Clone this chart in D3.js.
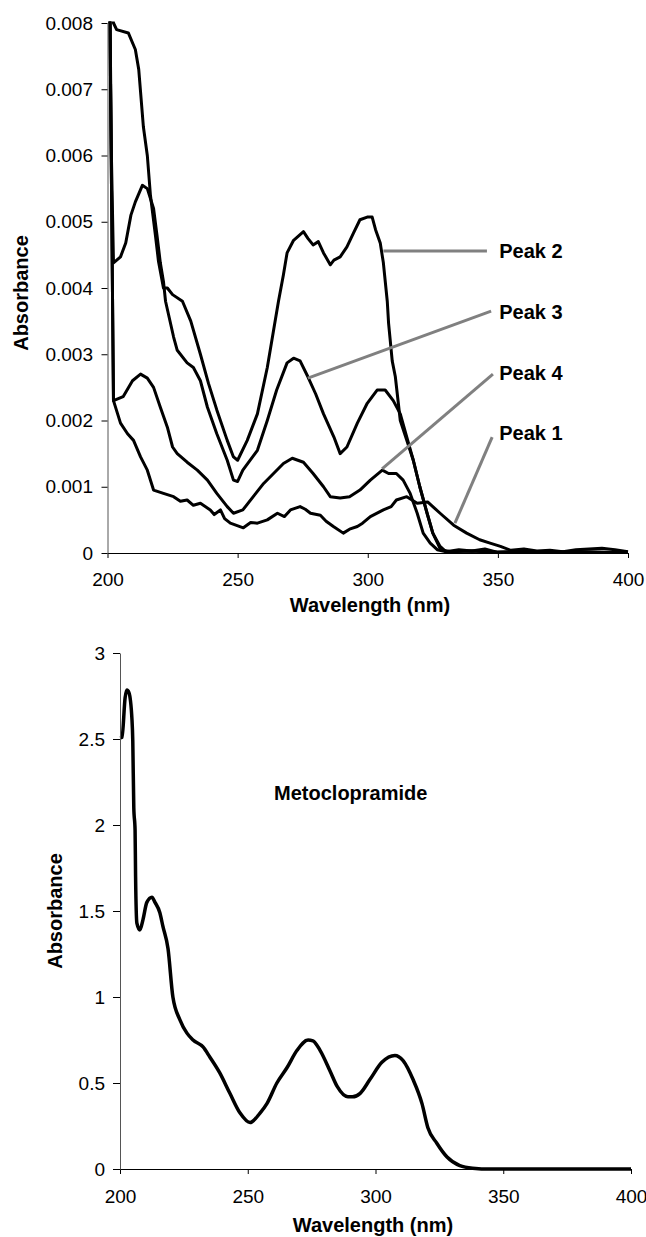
<!DOCTYPE html>
<html>
<head>
<meta charset="utf-8">
<script src="https://cdn.jsdelivr.net/npm/d3@7"></script>
<style>
  body { margin: 0; background: #fff; }
  text { font-family: "Liberation Sans", Arial, sans-serif; }
</style>
</head>
<body>
<div id="chart"></div>
<script>
// values
var wlTicks = [200, 250, 300, 350, 400]
var topTicks = [0, 0.001, 0.002, 0.003, 0.004, 0.005, 0.006, 0.007, 0.008]
var botTicks = [0, 0.5, 1, 1.5, 2, 2.5, 3]

var peak1Wl = [200, 202.3, 205, 207.7, 210, 212.7, 215.3, 217.7, 221.5, 225.4, 228, 230.6, 233, 235.7, 239.5, 241, 243.4, 245, 247.2, 252.2, 255, 257.6, 261.4, 265.3, 268, 270.3, 274, 276, 278, 281.8, 284, 286.8, 290.6, 293, 296, 298, 301, 306, 309, 311, 315, 319, 323, 327.8, 333, 338, 343, 347, 351, 355, 360, 365, 370, 375, 380, 385, 390, 395, 400]
var peak1Abs = [0.012, 0.0023, 0.00196, 0.0018, 0.0017, 0.00145, 0.00125, 0.00095, 0.0009, 0.00085, 0.00078, 0.0008, 0.00072, 0.00075, 0.00065, 0.00058, 0.00065, 0.00052, 0.00045, 0.00038, 0.00046, 0.00045, 0.0005, 0.0006, 0.00055, 0.00065, 0.0007, 0.00066, 0.0006, 0.00057, 0.00048, 0.0004, 0.0003, 0.00036, 0.0004, 0.00045, 0.00055, 0.00065, 0.0007, 0.0008, 0.00085, 0.00075, 0.00077, 0.0006, 0.00042, 0.0003, 0.0002, 0.00015, 0.0001, 0.00004, 0.00006, 0.00003, 0.00004, 0.00002, 0.00005, 0.00006, 0.00007, 0.00005, 0.00002]

var peak2Wl = [200, 201.5, 202.3, 203.5, 208, 210.7, 212, 213.8, 215.3, 216.5, 218.4, 219.6, 221.5, 223, 225, 228.8, 232, 235.7, 238.8, 242, 246, 248.4, 250, 253.7, 257.6, 261.4, 263.8, 265.7, 267.6, 269, 271.5, 275.3, 277, 279, 281, 283, 285.6, 287, 289.4, 292, 294.5, 297, 299.8, 301.7, 303, 304.8, 306, 307.5, 308, 309.4, 310.6, 312.5, 315, 317.5, 320, 322.8, 325, 327.8, 330, 335, 340, 345, 350, 360, 370, 380, 390, 400]
var peak2Abs = [0.0095, 0.0082, 0.008, 0.0079, 0.00785, 0.0076, 0.0073, 0.00643, 0.006, 0.0054, 0.0048, 0.0044, 0.004, 0.004, 0.0039, 0.0038, 0.0035, 0.003, 0.00256, 0.00216, 0.0017, 0.00145, 0.0014, 0.0017, 0.0021, 0.0028, 0.00336, 0.0038, 0.0042, 0.00453, 0.00472, 0.00485, 0.00475, 0.00465, 0.0047, 0.00453, 0.00435, 0.00442, 0.00447, 0.00462, 0.00483, 0.00503, 0.00507, 0.00507, 0.00488, 0.00468, 0.00438, 0.0038, 0.00347, 0.0029, 0.00266, 0.002, 0.0017, 0.0014, 0.001, 0.0006, 0.0003, 0.0001, 0.00002, 0.00005, 0.00003, 0.00006, 0.00001, 0.00002, 0.00001, 0.00002, 0.00001, 0.00001]

var peak3Wl = [200, 201.5, 202.3, 205, 207, 209, 210.7, 213.4, 215.3, 217.7, 219, 220.3, 221.5, 222.3, 225.4, 226.8, 230.6, 233, 235.7, 238.4, 242, 246, 248.4, 250, 252, 257.6, 261.4, 265, 269, 271.5, 274, 277, 280, 283, 287, 289.4, 292, 296, 299.8, 303.6, 306.7, 309.8, 312.5, 315, 317.5, 320, 322.8, 325, 328, 332, 340, 350, 360, 380, 400]
var peak3Abs = [0.012, 0.006, 0.00438, 0.00447, 0.00468, 0.0051, 0.0053, 0.00555, 0.0055, 0.0052, 0.0048, 0.00438, 0.0041, 0.0038, 0.00326, 0.00306, 0.00287, 0.0028, 0.0026, 0.0022, 0.0018, 0.0014, 0.0011, 0.00108, 0.00125, 0.00155, 0.002, 0.00246, 0.00287, 0.00294, 0.0029, 0.00266, 0.0024, 0.0021, 0.00175, 0.0015, 0.0016, 0.00196, 0.00226, 0.00246, 0.00246, 0.0023, 0.0021, 0.00175, 0.0014, 0.001, 0.0006, 0.0003, 0.00005, 0.00002, 0.00003, 0.00001, 0.00002, 0.00001, 0]

var peak4Wl = [200, 202.3, 206, 209.6, 212.7, 215.3, 217.7, 220.3, 223, 225, 226.8, 230.6, 234.5, 238.4, 242, 246, 248.4, 252, 256, 260, 263.8, 267.6, 271, 275.3, 279, 283, 285.6, 289.4, 293, 297, 301, 305.6, 308, 311, 313.6, 316.3, 319, 321.3, 324, 326.7, 330, 340, 350, 360, 370, 380, 390, 400]
var peak4Abs = [0.012, 0.0023, 0.00236, 0.0026, 0.0027, 0.00264, 0.0025, 0.0022, 0.0019, 0.0016, 0.0015, 0.00137, 0.00125, 0.0011, 0.0009, 0.0007, 0.0006, 0.00065, 0.00085, 0.00105, 0.0012, 0.00135, 0.00143, 0.00137, 0.0012, 0.001, 0.00085, 0.00083, 0.00085, 0.00095, 0.0011, 0.00125, 0.0012, 0.0012, 0.0011, 0.0009, 0.0006, 0.0003, 0.00015, 0.00005, 0.00002, 0.00003, 0.00001, 0.00002, 0.00001, 0.00002, 0.00001, 0]

var metoWl = [200, 200.8, 202, 202.7, 203.5, 204.7, 205, 205.4, 205.9, 206.1, 206.6, 207.8, 209, 210.5, 212.5, 213.7, 215.6, 216.8, 218.8, 220.7, 223.5, 226.2, 228.6, 232.5, 235.2, 239, 243, 247, 250.9, 254.8, 257.5, 261.4, 265.4, 269.3, 273.6, 275.5, 278.3, 282.2, 285, 289.2, 291, 294, 297.8, 302.5, 307.6, 310.8, 314.7, 318.2, 320.5, 324, 328, 333, 338, 345, 400]
var metoAbs = [2.506, 2.51, 2.74, 2.785, 2.77, 2.61, 2.49, 2.1, 1.97, 1.7, 1.43, 1.39, 1.45, 1.55, 1.58, 1.55, 1.49, 1.41, 1.28, 1.0, 0.866, 0.79, 0.75, 0.71, 0.65, 0.56, 0.44, 0.325, 0.27, 0.325, 0.38, 0.5, 0.59, 0.69, 0.75, 0.745, 0.69, 0.57, 0.48, 0.42, 0.42, 0.44, 0.52, 0.62, 0.66, 0.63, 0.52, 0.38, 0.24, 0.15, 0.07, 0.02, 0.005, 0, 0]

// peak labels: leader from point on curve to label
var peakNames = ['Peak 2', 'Peak 3', 'Peak 4', 'Peak 1']
var leaderFrom = [[306, 0.00456], [277, 0.00264], [305.5, 0.00127], [333.5, 0.00045]]
var leaderTo = [[345.8, 0.00456], [347.4, 0.00365], [348.1, 0.0027], [347.8, 0.00175]]
var labelAt = [[350.5, 0.00456], [350.5, 0.00364], [350.5, 0.00272], [350.5, 0.00181]]

var width = 646
var height = 1237

var svg = d3.select('#chart').append('svg')
    .attr('width', width)
    .attr('height', height)

function zip(xs, ys) {
    return xs.map(function (x, i) { return [x, ys[i]] })
}

// ---------- top chart ----------
var xTop = d3.scaleLinear().domain([200, 400]).range([107.5, 628])
var yTop = d3.scaleLinear().domain([0, 0.008]).range([553, 23])

svg.append('clipPath').attr('id', 'clipTop')
    .append('rect')
    .attr('x', xTop(200)).attr('y', yTop(0.008) - 1.5)
    .attr('width', xTop(400) - xTop(200) + 2)
    .attr('height', yTop(0) - yTop(0.008) + 1.5)

var lineTop = d3.line()
    .x(function (d) { return xTop(d[0]) })
    .y(function (d) { return yTop(d[1]) })

var series = [zip(peak1Wl, peak1Abs), zip(peak4Wl, peak4Abs), zip(peak3Wl, peak3Abs), zip(peak2Wl, peak2Abs)]
svg.append('g').attr('clip-path', 'url(#clipTop)')
    .selectAll('path')
    .data(series)
    .enter()
    .append('path')
    .attr('d', lineTop)
    .attr('fill', 'none')
    .attr('stroke', '#000')
    .attr('stroke-width', 3)
    .attr('stroke-linejoin', 'round')

var gx1 = svg.append('g')
    .attr('transform', 'translate(0,' + yTop(0) + ')')
    .call(d3.axisBottom(xTop).tickValues(wlTicks).tickSize(5).tickSizeOuter(0).tickPadding(15))
var gy1 = svg.append('g')
    .attr('transform', 'translate(' + xTop(200) + ',0)')
    .call(d3.axisLeft(yTop).tickValues(topTicks).tickSize(6).tickSizeOuter(0).tickPadding(8.5)
        .tickFormat(function (d) { return d === 0 ? '0' : d3.format('.3f')(d) }))

// leaders + labels
svg.selectAll('.leader')
    .data(peakNames)
    .enter()
    .append('line')
    .attr('class', 'leader')
    .attr('x1', function (d, i) { return xTop(leaderFrom[i][0]) })
    .attr('y1', function (d, i) { return yTop(leaderFrom[i][1]) })
    .attr('x2', function (d, i) { return xTop(leaderTo[i][0]) })
    .attr('y2', function (d, i) { return yTop(leaderTo[i][1]) })
    .attr('stroke', '#808080')
    .attr('stroke-width', 3)

svg.selectAll('.peaklabel')
    .data(peakNames)
    .enter()
    .append('text')
    .attr('class', 'peaklabel')
    .attr('x', function (d, i) { return xTop(labelAt[i][0]) })
    .attr('y', function (d, i) { return yTop(labelAt[i][1]) })
    .attr('dy', '0.36em')
    .style('font-size', '20px')
    .style('font-weight', 'bold')
    .text(function (d) { return d })

svg.append('text')
    .attr('transform', 'translate(28,293) rotate(-90)')
    .attr('text-anchor', 'middle')
    .style('font-size', '20px')
    .style('font-weight', 'bold')
    .text('Absorbance')

svg.append('text')
    .attr('x', 370).attr('y', 612)
    .attr('text-anchor', 'middle')
    .style('font-size', '20px')
    .style('font-weight', 'bold')
    .text('Wavelength (nm)')

// ---------- bottom chart ----------
var xBot = d3.scaleLinear().domain([200, 400]).range([120, 631])
var yBot = d3.scaleLinear().domain([0, 3]).range([1169, 653])

var lineBot = d3.line()
    .curve(d3.curveMonotoneX)
    .x(function (d) { return xBot(d[0]) })
    .y(function (d) { return yBot(d[1]) })

svg.append('path')
    .datum(zip(metoWl, metoAbs))
    .attr('d', lineBot)
    .attr('fill', 'none')
    .attr('stroke', '#000')
    .attr('stroke-width', 3.5)
    .attr('stroke-linejoin', 'round')

var gx2 = svg.append('g')
    .attr('transform', 'translate(0,' + yBot(0) + ')')
    .call(d3.axisBottom(xBot).tickValues(wlTicks).tickSize(5).tickSizeOuter(0).tickPadding(16))
var gy2 = svg.append('g')
    .attr('transform', 'translate(' + xBot(200) + ',0)')
    .call(d3.axisLeft(yBot).tickValues(botTicks).tickSize(7).tickSizeOuter(0).tickPadding(8)
        .tickFormat(function (d) { return String(d) }))

svg.append('text')
    .attr('x', xBot(260.3)).attr('y', yBot(2.145))
    .style('font-size', '20px')
    .style('font-weight', 'bold')
    .text('Metoclopramide')

svg.append('text')
    .attr('transform', 'translate(62,911) rotate(-90)')
    .attr('text-anchor', 'middle')
    .style('font-size', '20px')
    .style('font-weight', 'bold')
    .text('Absorbance')

svg.append('text')
    .attr('x', 373).attr('y', 1232)
    .attr('text-anchor', 'middle')
    .style('font-size', '20px')
    .style('font-weight', 'bold')
    .text('Wavelength (nm)')

// axis styling
svg.selectAll('.tick text')
    .style('font-size', '19px')
    .style('font-family', '"Liberation Sans", Arial, sans-serif')
    .attr('fill', '#000')
svg.selectAll('.domain, .tick line').attr('stroke', '#000')
gy1.select('.domain').attr('stroke', '#555')
gy2.select('.domain').attr('stroke', '#555')
</script>
</body>
</html>
